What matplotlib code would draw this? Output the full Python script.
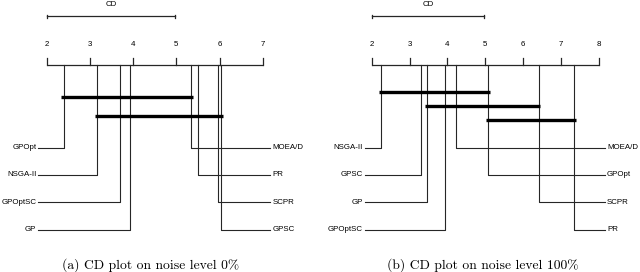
import matplotlib
matplotlib.use('Agg')
from matplotlib import pyplot as plt

# critical difference diagrams, two noise levels
cd_value = 2.98

names_0 = ['GPOpt', 'NSGA-II', 'GPOptSC', 'GP', 'MOEA/D', 'PR', 'SCPR', 'GPSC']
ranks_0 = [2.39, 3.16, 3.70, 3.92, 5.35, 5.50, 5.97, 6.03]
cliques_0 = [('GPOpt', 'MOEA/D'), ('NSGA-II', 'GPSC')]

names_100 = ['NSGA-II', 'GPSC', 'GP', 'GPOptSC', 'MOEA/D', 'GPOpt', 'SCPR', 'PR']
ranks_100 = [2.24, 3.31, 3.47, 3.93, 4.24, 5.08, 6.42, 7.35]
cliques_100 = [('NSGA-II', 'GPOpt'), ('GP', 'SCPR'), ('GPOpt', 'PR')]

caption_0 = '(a) CD plot on noise level 0%'
caption_100 = '(b) CD plot on noise level 100%'

sans = 'Liberation Sans'
fs = 5.7
lc = '#262626'


def cd_plot(ax, names, ranks, cliques, lo, hi, xlim, clq_y0, clq_dy, caption, cap_x):
    ax.set_xlim(*xlim)
    ax.set_ylim(272, 0)
    ax.axis('off')
    y_axis = 65
    # scale line and ticks
    ax.plot([lo, hi], [y_axis, y_axis], color=lc, lw=0.9, solid_capstyle='butt')
    for t in range(lo, hi + 1):
        ax.plot([t, t], [y_axis, 58], color=lc, lw=0.9)
        ax.text(t, 44, str(t), ha='center', va='center', fontsize=fs, family=sans)
    # CD bar
    ax.plot([lo, lo + cd_value], [16, 16], color=lc, lw=0.9)
    for x in (lo, lo + cd_value):
        ax.plot([x, x], [14.5, 17.5], color=lc, lw=0.9)
    ax.text(lo + cd_value / 2, 4, 'CD', ha='center', va='center', fontsize=fs, family=sans)
    # methods
    n = len(names)
    half = n // 2
    for i in range(n):
        r = ranks[i]
        if i < half:
            y = 147.5 + i * 27.4
            xe = lo - 0.19
            ax.plot([r, r, xe], [y_axis, y, y], color=lc, lw=0.8)
            ax.text(xe - 0.05, y, names[i], ha='right', va='center', fontsize=fs, family=sans)
        else:
            y = 147.5 + (i - half) * 27.4
            xe = hi + 0.17
            ax.plot([r, r, xe], [y_axis, y, y], color=lc, lw=0.8)
            ax.text(xe + 0.05, y, names[i], ha='left', va='center', fontsize=fs, family=sans)
    # cliques
    for k, (a, b) in enumerate(cliques):
        ra = ranks[names.index(a)]
        rb = ranks[names.index(b)]
        y = clq_y0 + k * clq_dy
        ax.plot([ra - 0.05, rb + 0.04], [y, y], color='black', lw=2.4, solid_capstyle='butt')
    ax.text(cap_x, 0.026, caption, ha='center', va='center', transform=ax.transAxes,
            fontsize=9.8, family='cmr10')


fig = plt.figure(figsize=(6.4, 2.72), dpi=100)
ax1 = fig.add_axes([0, 0, 0.5, 1])
ax2 = fig.add_axes([0.5, 0, 0.5, 1])

cd_plot(ax1, names_0, ranks_0, cliques_0, 2, 7, (0.919, 8.326), 97.3, 18.4, caption_0, 0.472)
cd_plot(ax2, names_100, ranks_100, cliques_100, 2, 8, (0.633, 9.092), 92.3, 13.9, caption_100, 0.508)

fig.savefig('out.png', dpi=100)
